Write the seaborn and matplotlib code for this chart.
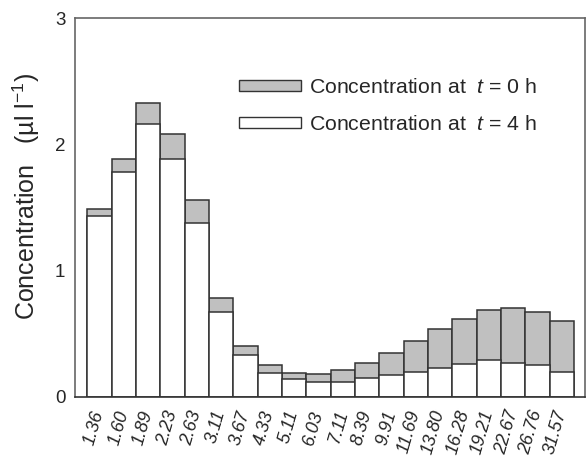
import pandas as pd
import matplotlib
matplotlib.use("Agg")
import matplotlib.pyplot as plt
from matplotlib.patches import Patch
import seaborn as sns

sizes = ['1.36', '1.60', '1.89', '2.23', '2.63', '3.11', '3.67', '4.33', '5.11', '6.03',
         '7.11', '8.39', '9.91', '11.69', '13.80', '16.28', '19.21', '22.67', '26.76', '31.57']
conc_t0 = [1.49, 1.88, 2.33, 2.08, 1.56, 0.78, 0.40, 0.25, 0.19, 0.18,
           0.21, 0.27, 0.35, 0.44, 0.54, 0.62, 0.69, 0.70, 0.67, 0.60]
conc_t4 = [1.43, 1.78, 2.16, 1.88, 1.38, 0.67, 0.33, 0.19, 0.14, 0.12,
           0.12, 0.15, 0.17, 0.20, 0.23, 0.26, 0.29, 0.27, 0.25, 0.20]

df = pd.DataFrame({'size': sizes, 't0': conc_t0, 't4': conc_t4})

sns.set_theme(style="white")
plt.rcParams['font.family'] = ['Liberation Sans', 'DejaVu Sans']
plt.rcParams['mathtext.fontset'] = 'custom'
plt.rcParams['mathtext.it'] = 'Liberation Sans:italic'
plt.rcParams['mathtext.rm'] = 'Liberation Sans'

fig = plt.figure(figsize=(5.86, 4.62), dpi=100)
ax = fig.add_axes([0.128, 0.141, 0.870, 0.820])

edge = '#333333'
sns.barplot(data=df, x='size', y='t0', order=sizes, color='#c0c0c0', saturation=1,
            edgecolor=edge, linewidth=1.1, width=1.0, ax=ax)
sns.barplot(data=df, x='size', y='t4', order=sizes, color='white', saturation=1,
            edgecolor=edge, linewidth=1.1, width=1.0, ax=ax)

ax.set_xlim(-1.0, 19.95)
ax.set_ylim(0, 3)
ax.set_yticks([0, 1, 2, 3])
ax.set_yticklabels(['0', '1', '2', '3'], fontsize=13.5)
ax.set_xticks(range(len(sizes)))
ax.set_xticklabels(sizes, rotation=74, ha='right', va='center', rotation_mode='anchor',
                   fontsize=13, style='italic')
ax.tick_params(axis='x', direction='in', length=3, width=0.8, color='#777777', pad=10)
ax.tick_params(axis='y', direction='out', length=5, width=1, color='#555555', pad=2)
ax.set_xlabel('')
ax.set_ylabel('Concentration   (µl l$^{-1}$)', fontsize=18)
ax.yaxis.set_label_coords(-0.064, 0.53)

for s in ax.spines.values():
    s.set_color('#666666')
    s.set_linewidth(1.2)
ax.spines['bottom'].set_color('#333333')

handles = [Patch(facecolor='#c0c0c0', edgecolor=edge, linewidth=1.0),
           Patch(facecolor='white', edgecolor=edge, linewidth=1.0)]
labels = ['Concentration at  $t$ = 0 h', 'Concentration at  $t$ = 4 h']
ax.legend(handles, labels, loc='upper left', bbox_to_anchor=(0.3216, 0.842), frameon=False,
          fontsize=15.3, handlelength=2.9, handleheight=0.42, handletextpad=0.38,
          labelspacing=0.85, borderpad=0, borderaxespad=0)

fig.savefig('out.png', dpi=100)
